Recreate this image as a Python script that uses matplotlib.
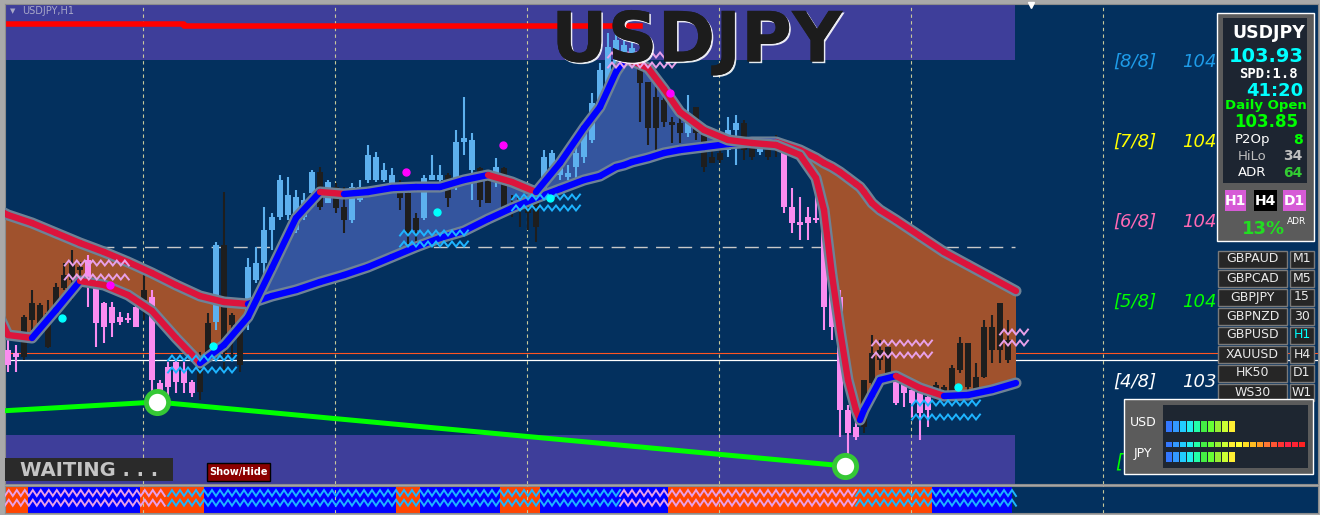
"""
USDJPY H1 trading screen — candles, MA cloud, Murrey levels and side panels.
"""

import numpy as np
import matplotlib
matplotlib.use("Agg")
import matplotlib.pyplot as plt
import matplotlib.patches as mpatches
import matplotlib.patheffects as pe
from matplotlib.collections import LineCollection


# ── Colour Palette ───────────────────────────────────────────────────────────

FRAME        = "#A9A9A9"
BG_NAVY      = "#03305E"
ZONE_PURPLE  = "#3E3E9A"
CANDLE_BLUE  = "#5DB0EE"
CANDLE_BLACK = "#1E1E1E"
CANDLE_PINK  = "#FA8CF0"
MA_UP        = "#0000FF"
MA_DOWN      = "#DC143C"
MA_EDGE      = "#6E8296"
CLOUD_DOWN   = "#A0522D"
CLOUD_UP     = "#34559E"
PANEL_GREY   = "#5B5B5B"
PANEL_DARK   = "#1D2531"


# ── Data ─────────────────────────────────────────────────────────────────────

opens = [
    103.950, 103.944, 103.936, 104.010, 104.004, 103.956, 104.030, 104.074, 104.090, 104.110,
    104.130, 104.076, 104.044, 104.036, 104.016, 104.014, 104.036, 104.050, 104.056, 103.884,
    103.916, 103.926, 103.910, 103.886, 103.866, 103.944, 104.006, 104.160, 104.020, 103.990,
    104.024, 104.090, 104.124, 104.190, 104.216, 104.220, 104.190, 104.216, 104.264, 104.306,
    104.244, 104.276, 104.236, 104.210, 104.250, 104.290, 104.290, 104.290, 104.284, 104.286,
    104.264, 104.214, 104.214, 104.290, 104.290, 104.300, 104.290, 104.366, 104.310, 104.314,
    104.290, 104.290, 104.314, 104.244, 104.256, 104.250, 104.250, 104.270, 104.316, 104.300,
    104.296, 104.316, 104.336, 104.370, 104.436, 104.484, 104.504, 104.530, 104.530, 104.520,
    104.486, 104.456, 104.450, 104.406, 104.404, 104.384, 104.436, 104.384, 104.336, 104.344,
    104.350, 104.390, 104.404, 104.354, 104.346, 104.350, 104.350, 104.344, 104.236, 104.206,
    104.216, 104.214, 104.214, 104.084, 104.056, 103.830, 103.796, 103.796, 103.884, 103.930,
    103.904, 103.890, 103.886, 103.870, 103.864, 103.856, 103.856, 103.864, 103.864, 103.910,
    103.876, 103.870, 103.896, 103.950, 103.950, 103.970,
]
highs = [
    103.970, 103.960, 104.020, 104.070, 104.044, 104.050, 104.084, 104.124, 104.150, 104.126,
    104.140, 104.084, 104.046, 104.046, 104.026, 104.024, 104.040, 104.100, 104.070, 103.890,
    103.926, 103.930, 103.926, 103.890, 103.946, 104.024, 104.166, 104.266, 104.024, 103.996,
    104.134, 104.156, 104.236, 104.224, 104.300, 104.296, 104.270, 104.264, 104.310, 104.316,
    104.290, 104.284, 104.276, 104.284, 104.290, 104.360, 104.346, 104.324, 104.314, 104.290,
    104.266, 104.224, 104.300, 104.340, 104.320, 104.304, 104.390, 104.456, 104.384, 104.316,
    104.296, 104.334, 104.316, 104.260, 104.256, 104.256, 104.276, 104.350, 104.350, 104.336,
    104.320, 104.364, 104.390, 104.464, 104.524, 104.584, 104.610, 104.570, 104.566, 104.524,
    104.486, 104.476, 104.464, 104.416, 104.416, 104.460, 104.436, 104.396, 104.356, 104.350,
    104.416, 104.420, 104.410, 104.356, 104.374, 104.356, 104.380, 104.350, 104.274, 104.256,
    104.236, 104.260, 104.220, 104.100, 104.070, 103.840, 103.824, 103.890, 103.980, 103.970,
    103.964, 103.896, 103.890, 103.880, 103.876, 103.864, 103.886, 103.880, 103.920, 103.976,
    103.964, 103.924, 104.010, 104.020, 104.044, 104.010,
]
lows = [
    103.906, 103.906, 103.930, 103.990, 103.990, 103.954, 104.026, 104.070, 104.050, 104.080,
    104.036, 103.956, 103.964, 103.976, 104.000, 104.004, 103.996, 104.010, 103.864, 103.844,
    103.844, 103.864, 103.864, 103.856, 103.850, 103.926, 103.990, 103.906, 103.936, 103.906,
    103.990, 104.084, 104.096, 104.150, 104.210, 104.210, 104.184, 104.210, 104.260, 104.230,
    104.244, 104.224, 104.184, 104.204, 104.246, 104.284, 104.286, 104.286, 104.280, 104.230,
    104.150, 104.164, 104.210, 104.290, 104.286, 104.236, 104.270, 104.340, 104.250, 104.236,
    104.244, 104.276, 104.224, 104.216, 104.196, 104.190, 104.166, 104.264, 104.290, 104.290,
    104.290, 104.290, 104.324, 104.364, 104.430, 104.476, 104.500, 104.520, 104.526, 104.406,
    104.360, 104.336, 104.396, 104.364, 104.364, 104.376, 104.370, 104.306, 104.324, 104.324,
    104.336, 104.320, 104.330, 104.330, 104.340, 104.330, 104.336, 104.224, 104.184, 104.170,
    104.170, 104.204, 103.990, 103.970, 103.776, 103.716, 103.770, 103.784, 103.880, 103.910,
    103.896, 103.840, 103.836, 103.816, 103.770, 103.796, 103.850, 103.858, 103.860, 103.904,
    103.870, 103.864, 103.894, 103.924, 103.924, 103.924,
]
closes = [
    103.920, 103.936, 104.016, 104.044, 104.040, 104.024, 104.076, 104.100, 104.124, 104.116,
    104.096, 104.004, 103.996, 104.004, 104.006, 104.010, 103.996, 104.070, 103.890, 103.864,
    103.876, 103.886, 103.884, 103.864, 103.916, 104.004, 104.160, 103.944, 104.000, 103.920,
    104.116, 104.124, 104.190, 104.216, 104.290, 104.260, 104.256, 104.250, 104.306, 104.236,
    104.286, 104.234, 104.210, 104.276, 104.276, 104.340, 104.336, 104.310, 104.300, 104.254,
    104.184, 104.190, 104.294, 104.300, 104.300, 104.254, 104.366, 104.374, 104.370, 104.250,
    104.244, 104.316, 104.226, 104.224, 104.230, 104.224, 104.196, 104.336, 104.344, 104.334,
    104.304, 104.344, 104.384, 104.444, 104.510, 104.556, 104.570, 104.560, 104.554, 104.484,
    104.394, 104.394, 104.406, 104.400, 104.384, 104.416, 104.384, 104.316, 104.324, 104.330,
    104.390, 104.404, 104.350, 104.336, 104.370, 104.336, 104.370, 104.236, 104.204, 104.200,
    104.204, 104.210, 104.036, 103.996, 103.830, 103.784, 103.776, 103.890, 103.944, 103.950,
    103.956, 103.844, 103.864, 103.844, 103.824, 103.830, 103.880, 103.876, 103.914, 103.964,
    103.964, 103.896, 103.996, 103.996, 104.044, 103.930,
]
# b = blue body (up leg), k = black body, p = pink body (down leg)
candle_kind = ("pp" "kkkkkkkk" "ppppppp" "k" "pppppp" "kk" "b" "kkk" "bbbbbbbbb" "k" "b"
               "kk" "bbbbbb" "kkk" "bbb" "k" "bbb" "kk" "b" "kkkkk" "bbbbbbbbbbbb"
               "kkkkkk" "b" "kkkk" "bb" "kk" "b" "kk" "pppppppppp" "kkkk" "ppppp"
               "kkkkkkkkkk")

ma_bars = [-1, 0, 3, 6, 9, 12, 15, 18, 21, 24, 27, 30, 33, 36, 39, 42, 45, 48, 51, 54,
           57, 60, 63, 66, 69, 72, 74, 76, 77, 78, 80, 82, 84, 87, 90, 93, 96, 99,
           101, 102, 103, 104, 105, 106, 106.5, 107, 108, 109, 111, 114, 117, 120, 123, 126]
slow_ma = [104.228, 104.220, 104.204, 104.184, 104.164, 104.146, 104.126, 104.104, 104.080,
           104.058, 104.046, 104.042, 104.058, 104.070, 104.086, 104.100, 104.116, 104.136,
           104.156, 104.174, 104.188, 104.212, 104.234, 104.254, 104.272, 104.290, 104.298,
           104.316, 104.320, 104.326, 104.334, 104.344, 104.350, 104.356, 104.362, 104.366,
           104.366, 104.350, 104.334, 104.324, 104.316, 104.306, 104.294, 104.282, 104.276,
           104.266, 104.244, 104.230, 104.210, 104.178, 104.146, 104.120, 104.094, 104.068]
fast_ma = [104.014, 103.980, 103.974, 104.030, 104.088, 104.080, 104.060, 104.028, 103.974,
           103.924, 103.960, 104.016, 104.114, 104.214, 104.266, 104.262, 104.266, 104.274,
           104.276, 104.276, 104.290, 104.300, 104.286, 104.266, 104.324, 104.394, 104.436,
           104.506, 104.530, 104.528, 104.514, 104.472, 104.426, 104.390, 104.370, 104.364,
           104.360, 104.340, 104.294, 104.230, 104.100, 103.990, 103.890, 103.830, 103.810,
           103.830, 103.860, 103.890, 103.898, 103.874, 103.858, 103.860, 103.870, 103.884]

zone_top = (104.530, 104.700)
zone_bottom = (103.600, 103.780)
zone_end_bar = 125.9

prev_high_bars = [-1, 22, 22, 79]
prev_high_vals = [104.602, 104.602, 104.598, 104.598]

zigzag_bars = [-1, 18.6, 104.6]
zigzag_vals = [103.828, 103.846, 103.718]

mid_level = 104.156
ask_level = 103.944
bid_level = 103.930
day_breaks = [16.9, 40.9, 64.9, 88.9, 112.9, 136.9]

murrey_tags = ["[8/8]", "[7/8]", "[6/8]", "[5/8]", "[4/8]", "[3/8]"]
murrey_levels = [104.526, 104.366, 104.206, 104.046, 103.886, 103.726]
murrey_colors = ["#1E9BE8", "#FFFF00", "#FF69B4", "#00FF00", "#FFFFFF", "#00FF00"]

magenta_bars = [12.75, 49.75, 61.9, 82.75]
magenta_vals = [104.080, 104.306, 104.360, 104.464]
cyan_bars = [6.75, 25.6, 53.6, 67.75, 118.75]
cyan_vals = [104.014, 103.958, 104.226, 104.254, 103.876]

# sideways markers: start bar, end bar, upper row, lower row, kind
wave_marks = [
    (7.1, 15.5, 104.124, 104.096, "p"),
    (75.0, 83.6, 104.540, 104.520, "p"),
    (108.0, 115.5, 103.964, 103.940, "p"),
    (124.0, 127.5, 103.986, 103.964, "p"),
    (20.0, 28.6, 103.934, 103.910, "c"),
    (49.0, 57.5, 104.184, 104.162, "c"),
    (63.0, 71.5, 104.256, 104.234, "c"),
    (113.0, 121.5, 103.844, 103.816, "c"),
]

# lower window: trend runs (state, bars) and wave colour runs
trend_runs = [("dn", 3), ("up", 14), ("dn", 8), ("up", 24), ("dn", 3), ("up", 10),
              ("dn", 5), ("up", 16), ("dn", 33), ("up", 10)]
wave_runs = [(-0.4, 20.0, "p"), (20.0, 76.5, "c"), (76.5, 106.0, "p"), (106.0, 126.3, "c")]

info_price = "103.93"
info_spread = "SPD:1.8"
info_timer = "41:20"
info_open = "103.85"
info_rows = [("P2Op", "8", "#FFFFFF", "#00FF00"),
             ("HiLo", "34", "#BEBEBE", "#BEBEBE"),
             ("ADR", "64", "#FFFFFF", "#33CC33")]
adr_pct = "13%"

watch_symbols = ["GBPAUD", "GBPCAD", "GBPJPY", "GBPNZD", "GBPUSD", "XAUUSD", "HK50", "WS30"]
watch_tfs = ["M1", "M5", "15", "30", "H1", "H4", "D1", "W1"]
active_tf = "H1"

usd_strength = 10
jpy_strength = 10
strength_scale = 20
strength_colors = ["#3377FF", "#3399FF", "#22CCFF", "#22EEEE", "#22FFAA", "#44EE44",
                   "#66FF33", "#99EE33", "#CCFF33", "#FFEE33", "#FFFF33", "#FFDD22",
                   "#FFBB22", "#FF9922", "#FF7733", "#FF5533", "#FF3333", "#FF2244",
                   "#FF2233", "#FF2222"]


# ── Figure & Axes ────────────────────────────────────────────────────────────

W, H = 1320, 515


def frac(x0, y0, x1, y1):
    return [x0 / W, 1 - y1 / H, (x1 - x0) / W, (y1 - y0) / H]


fig = plt.figure(figsize=(13.2, 5.15), dpi=100)
fig.patch.set_facecolor(FRAME)

ax = fig.add_axes(frac(5, 4, 1318, 484))
ax.set_facecolor(BG_NAVY)
ax.set_xlim(-0.375, 163.75)
ax.set_ylim(103.682, 104.642)
ax.set_xticks([])
ax.set_yticks([])
for spine in ax.spines.values():
    spine.set_edgecolor("#8C8C8C")

sub = fig.add_axes(frac(5, 486, 1318, 513))
sub.set_facecolor(BG_NAVY)
sub.set_xlim(ax.get_xlim())
sub.set_ylim(0, 1)
sub.set_xticks([])
sub.set_yticks([])
for spine in sub.spines.values():
    spine.set_edgecolor("#8C8C8C")


def wave(axis, b0, b1, level, amp, color, lw=1.6, z=6):
    xs = np.arange(b0, b1 + 1e-6, 0.5)
    ys = level + amp * np.where(np.arange(len(xs)) % 2 == 0, -1, 1)
    axis.plot(xs, ys, color=color, lw=lw, solid_joinstyle="miter", zorder=z)


# ── Main chart ───────────────────────────────────────────────────────────────

for lo, hi in (zone_top, zone_bottom):
    ax.fill_between([-1, zone_end_bar], lo, hi, color=ZONE_PURPLE, lw=0, zorder=0.5)

for b in day_breaks:
    ax.axvline(b, color="#C9C99A", lw=0.8, ls=(0, (3, 3)), zorder=0.8)
    sub.axvline(b, color="#C9C99A", lw=0.8, ls=(0, (3, 3)), zorder=3)

ax.plot(prev_high_bars, prev_high_vals, color="#FF0000", lw=4.0, zorder=1)
ax.hlines(mid_level, 11.5, zone_end_bar, color="#C8C8C8", lw=1.0,
          ls=(0, (10, 6)), zorder=1)
ax.axhline(ask_level, color="#FF5522", lw=0.8, zorder=1)
ax.axhline(bid_level, color="#FFFFFF", lw=0.9, zorder=1)

slow = np.array(slow_ma)
fast = np.array(fast_ma)
ax.fill_between(ma_bars, slow, fast, where=slow >= fast, interpolate=True,
                color=CLOUD_DOWN, lw=0, zorder=1.5)
ax.fill_between(ma_bars, slow, fast, where=slow < fast, interpolate=True,
                color=CLOUD_UP, lw=0, zorder=1.5)

# candles
kind_color = {"b": CANDLE_BLUE, "k": CANDLE_BLACK, "p": CANDLE_PINK}
cols = [kind_color[k] for k in candle_kind]
bars = np.arange(len(opens))
o, c = np.array(opens), np.array(closes)
ax.vlines(bars, lows, highs, colors=cols, lw=1.5, zorder=3)
ax.bar(bars, np.maximum(np.abs(c - o), 0.004), bottom=np.minimum(o, c),
       width=0.75, color=cols, lw=0, zorder=3)


def ma_line(vals, z):
    pts = np.column_stack([ma_bars, vals])
    segs = np.stack([pts[:-1], pts[1:]], axis=1)
    seg_cols = np.where(np.diff(vals) >= 0, MA_UP, MA_DOWN)
    ax.plot(ma_bars, vals, color=MA_EDGE, lw=8, solid_capstyle="round",
            solid_joinstyle="round", zorder=z)
    ax.add_collection(LineCollection(segs, colors=seg_cols, linewidths=4.6,
                                     capstyle="round", joinstyle="round", zorder=z + 0.1))


ma_line(slow, 4)
ma_line(fast, 5)

for b0, b1, up, lo, kind in wave_marks:
    colr = "#E8A0E8" if kind == "p" else "#1EB4FF"
    wave(ax, b0, b1, up, 0.005, colr, lw=1.4, z=6)
    wave(ax, b0, b1, lo, 0.005, colr, lw=1.4, z=6)

ax.plot(magenta_bars, magenta_vals, "o", color="#FF00FF", ms=5, zorder=7)
ax.plot(cyan_bars, cyan_vals, "o", color="#00FFFF", ms=5, zorder=7)

ax.plot(zigzag_bars, zigzag_vals, color="#00FF00", lw=3.6, zorder=7)
ax.plot(zigzag_bars[1:], zigzag_vals[1:], "o", ms=16, mfc="white",
        mec="#35C835", mew=3.5, zorder=8)

for i, (tag, lvl, colr) in enumerate(zip(murrey_tags, murrey_levels, murrey_colors)):
    if i == len(murrey_tags) - 1:
        ax.text(138.4, lvl, "[", color=colr, fontsize=13.5, style="italic",
                va="center", zorder=9)
        continue
    ax.text(138.1, lvl, tag, color=colr, fontsize=13, style="italic",
            va="center", zorder=9)
    ax.text(146.8, lvl, str(int(lvl)), color=colr, fontsize=13, style="italic",
            va="center", zorder=9)

# ── Lower window ─────────────────────────────────────────────────────────────

start = -0.5
for state, n in trend_runs:
    sub.axvspan(start, start + n, color="#FF4500" if state == "dn" else "#0000FF",
                lw=0, zorder=1)
    start += n

for b0, b1, kind in wave_runs:
    colr = "#E8A0E8" if kind == "p" else "#1EB4FF"
    wave(sub, b0, b1, 0.74, 0.11, colr, lw=1.4, z=4)
    wave(sub, b0, b1, 0.38, 0.11, colr, lw=1.4, z=4)


# ── Overlay panels ───────────────────────────────────────────────────────────

ov = fig.add_axes([0, 0, 1, 1], zorder=10)
ov.set_xlim(0, W)
ov.set_ylim(H, 0)
ov.axis("off")
ov.patch.set_alpha(0)


def rect(x0, y0, x1, y1, fc, ec="none", lw=1.0):
    ov.add_patch(mpatches.Rectangle((x0, y0), x1 - x0, y1 - y0,
                                    facecolor=fc, edgecolor=ec, linewidth=lw))


ov.text(697, 42, "USDJPY", color="#1C1C1C", fontsize=50, fontweight="heavy",
        ha="center", va="center",
        path_effects=[pe.withSimplePatchShadow(offset=(1.2, -1.2),
                                               shadow_rgbFace="white", alpha=0.9),
                      pe.Normal()])
ov.text(10, 11, "\u25BC", color="#A8A8C8", fontsize=5, va="center")
ov.text(22, 11, "USDJPY,H1", color="#A8A8C8", fontsize=7, va="center")
ov.plot([1031], [5], "v", color="white", ms=5)

# info panel
rect(1217, 13, 1314, 241, PANEL_GREY, "white", 1.0)
rect(1223, 18, 1307, 183, PANEL_DARK)
ov.text(1269, 33, "USDJPY", color="white", fontsize=12.5, fontweight="bold",
        ha="center", va="center")
ov.text(1266, 56, info_price, color="#00FFFF", fontsize=14, fontweight="bold",
        ha="center", va="center")
ov.text(1268, 74, info_spread, color="white", fontsize=10, fontweight="bold",
        family="DejaVu Sans Mono", ha="center", va="center")
ov.text(1303, 91, info_timer, color="#00FFFF", fontsize=13, fontweight="bold",
        ha="right", va="center")
ov.text(1266, 105, "Daily Open", color="#00FF00", fontsize=9.5, fontweight="bold",
        ha="center", va="center")
ov.text(1266, 122, info_open, color="#00FF00", fontsize=12, fontweight="bold",
        ha="center", va="center")
for k, (name, val, c1, c2) in enumerate(info_rows):
    yy = 140 + 16.5 * k
    ov.text(1252, yy, name, color=c1, fontsize=9.5, ha="center", va="center")
    ov.text(1303, yy, val, color=c2, fontsize=10, fontweight="bold",
            ha="right", va="center")

for x0, x1, label, fc in ((1225, 1246, "H1", "#D65BD6"), (1254, 1277, "H4", "black"),
                          (1283, 1306, "D1", "#D65BD6")):
    rect(x0, 190, x1, 211, fc)
    ov.text((x0 + x1) / 2, 201, label, color="white", fontsize=10, fontweight="bold",
            ha="center", va="center")
ov.text(1285, 229, adr_pct, color="#22DD22", fontsize=13, fontweight="bold",
        ha="right", va="center")
ov.text(1287, 222, "ADR", color="white", fontsize=6.5, ha="left", va="center")

# watch list
for k, (sym, tf) in enumerate(zip(watch_symbols, watch_tfs)):
    yc = 259 + 19 * k
    rect(1218, yc - 8.5, 1287, yc + 8.5, "#262626", "#7A7A7A")
    rect(1290, yc - 8.5, 1314, yc + 8.5, "#262626", "#7A7A7A")
    ov.text(1252.5, yc, sym, color="#EAEAEA", fontsize=9, ha="center", va="center")
    ov.text(1302, yc, tf, color="#00FFFF" if tf == active_tf else "#EAEAEA",
            fontsize=9, ha="center", va="center")

# currency strength meter
rect(1124, 399, 1313, 474, PANEL_GREY, "white", 1.0)
rect(1163, 405, 1308, 468, "#1E2631")
ov.text(1143, 423, "USD", color="white", fontsize=9, ha="center", va="center")
ov.text(1143, 454, "JPY", color="white", fontsize=9, ha="center", va="center")
for k in range(strength_scale):
    x0 = 1166 + 7 * k
    rect(x0, 442, x0 + 5.5, 447, strength_colors[k])
    if k < usd_strength:
        rect(x0, 421, x0 + 5.5, 432, strength_colors[k])
    if k < jpy_strength:
        rect(x0, 452, x0 + 5.5, 462, strength_colors[k])

# status box and button
rect(5, 458, 173, 481, "#2A2A2A")
ov.text(20, 470, "WAITING . . .", color="#C5C5C5", fontsize=14, fontweight="bold",
        va="center")
rect(207, 463, 270, 481, "#8B0000", "black", 1.0)
ov.text(238.5, 472, "Show/Hide", color="white", fontsize=7, fontweight="bold",
        ha="center", va="center")

fig.savefig("out.png", dpi=100, facecolor=fig.get_facecolor())
plt.close(fig)
